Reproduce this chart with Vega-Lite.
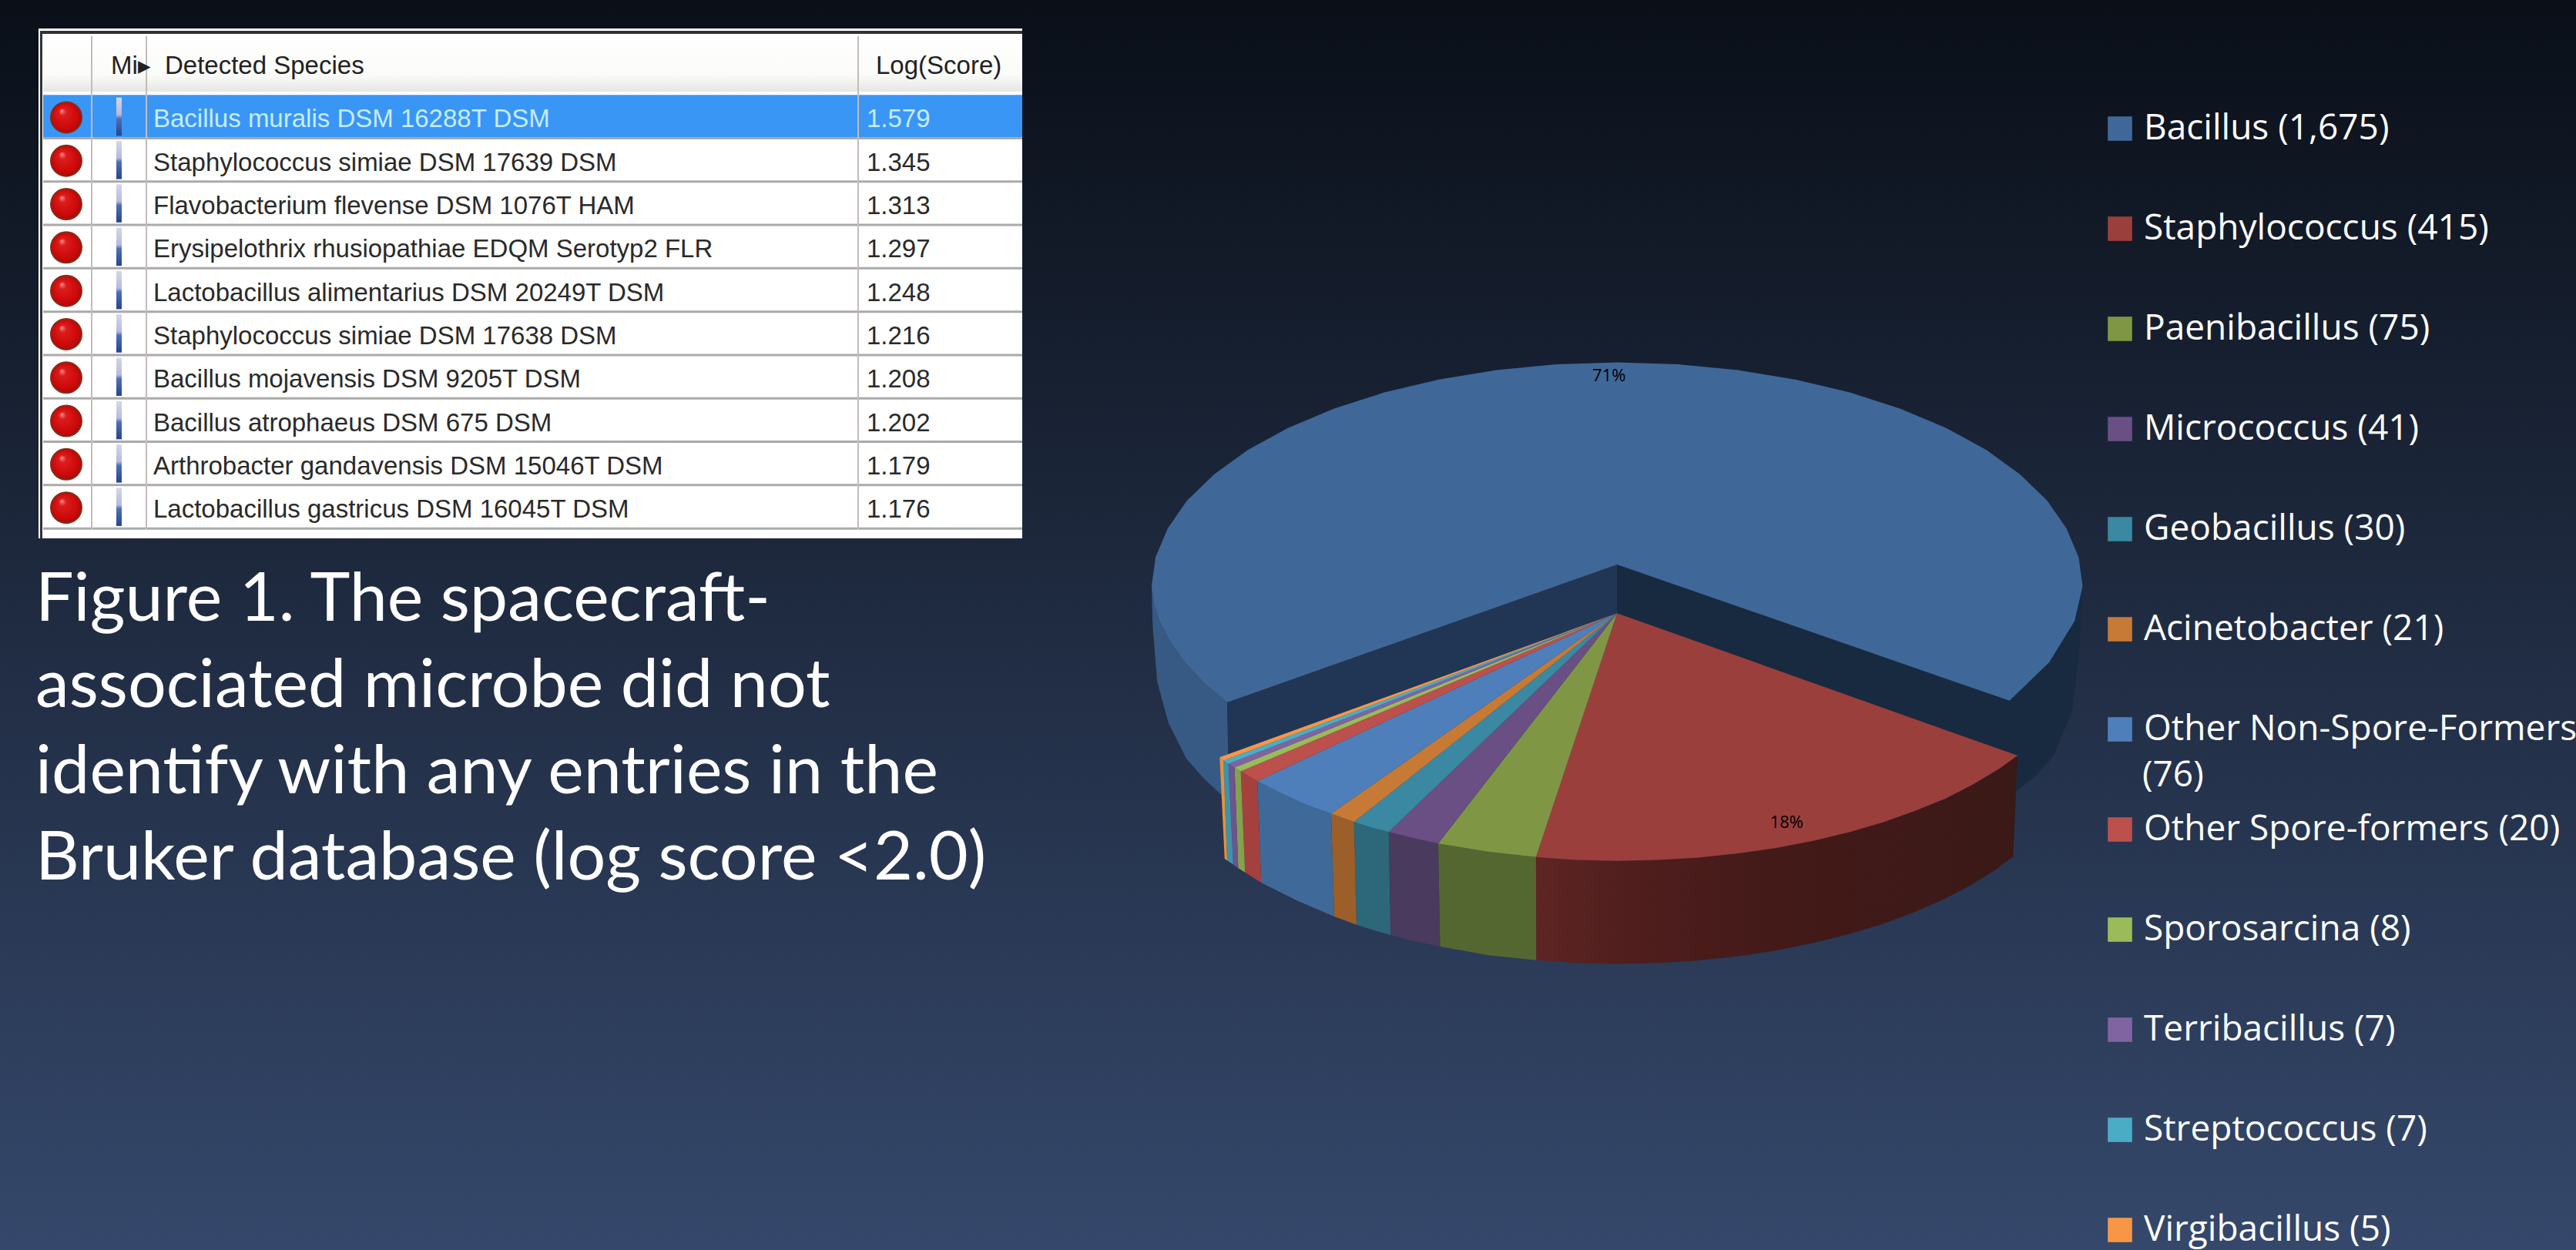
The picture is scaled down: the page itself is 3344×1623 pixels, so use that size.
{
"$schema":"https://vega.github.io/schema/vega-lite/v6.json",
"width":3344,"height":1623,"padding":0,"autosize":{"type":"none"},"background":"#0a0f18",
"config":{"view":{"stroke":null},"axis":{"disable":true}},
"datasets":{
"matches":[
{"row":0,"species":"Bacillus muralis DSM 16288T DSM","score":"1.579"},
{"row":1,"species":"Staphylococcus simiae DSM 17639 DSM","score":"1.345"},
{"row":2,"species":"Flavobacterium flevense DSM 1076T HAM","score":"1.313"},
{"row":3,"species":"Erysipelothrix rhusiopathiae EDQM Serotyp2 FLR","score":"1.297"},
{"row":4,"species":"Lactobacillus alimentarius DSM 20249T DSM","score":"1.248"},
{"row":5,"species":"Staphylococcus simiae DSM 17638 DSM","score":"1.216"},
{"row":6,"species":"Bacillus mojavensis DSM 9205T DSM","score":"1.208"},
{"row":7,"species":"Bacillus atrophaeus DSM 675 DSM","score":"1.202"},
{"row":8,"species":"Arthrobacter gandavensis DSM 15046T DSM","score":"1.179"},
{"row":9,"species":"Lactobacillus gastricus DSM 16045T DSM","score":"1.176"}],
"caption":[
{"line":1,"text":"Figure 1. The spacecraft-"},
{"line":2,"text":"associated microbe did not"},
{"line":3,"text":"identify with any entries in the"},
{"line":4,"text":"Bruker database (log score <2.0)"}],
"tops":[
{"slice":"Bacillus (1,675)","seq":0,"x":783,"y":547},{"slice":"Bacillus (1,675)","seq":1,"x":1417,"y":877},{"slice":"Bacillus (1,675)","seq":2,"x":1481,"y":784},{"slice":"Bacillus (1,675)","seq":3,"x":1522,"y":684},{"slice":"Bacillus (1,675)","seq":4,"x":1535,"y":600},{"slice":"Bacillus (1,675)","seq":5,"x":1528.6,"y":529},{"slice":"Bacillus (1,675)","seq":6,"x":1509,"y":459.5},{"slice":"Bacillus (1,675)","seq":7,"x":1477.8,"y":392.2},{"slice":"Bacillus (1,675)","seq":8,"x":1434,"y":328.5},{"slice":"Bacillus (1,675)","seq":9,"x":1379.6,"y":269.4},{"slice":"Bacillus (1,675)","seq":10,"x":1314.8,"y":216},{"slice":"Bacillus (1,675)","seq":11,"x":1240.8,"y":169.2},{"slice":"Bacillus (1,675)","seq":12,"x":1159,"y":129.8},{"slice":"Bacillus (1,675)","seq":13,"x":1070.8,"y":98.3},{"slice":"Bacillus (1,675)","seq":14,"x":977.6,"y":75.5},{"slice":"Bacillus (1,675)","seq":15,"x":881.1,"y":61.7},{"slice":"Bacillus (1,675)","seq":16,"x":783,"y":57},{"slice":"Bacillus (1,675)","seq":17,"x":684.9,"y":61.7},{"slice":"Bacillus (1,675)","seq":18,"x":588.4,"y":75.5},{"slice":"Bacillus (1,675)","seq":19,"x":495.2,"y":98.3},{"slice":"Bacillus (1,675)","seq":20,"x":407,"y":129.8},{"slice":"Bacillus (1,675)","seq":21,"x":325.2,"y":169.2},{"slice":"Bacillus (1,675)","seq":22,"x":251.2,"y":216},{"slice":"Bacillus (1,675)","seq":23,"x":186.4,"y":269.4},{"slice":"Bacillus (1,675)","seq":24,"x":132,"y":328.5},{"slice":"Bacillus (1,675)","seq":25,"x":88.2,"y":392.2},{"slice":"Bacillus (1,675)","seq":26,"x":57,"y":459.5},{"slice":"Bacillus (1,675)","seq":27,"x":37.4,"y":529},{"slice":"Bacillus (1,675)","seq":28,"x":31,"y":600},{"slice":"Bacillus (1,675)","seq":29,"x":35,"y":642},{"slice":"Bacillus (1,675)","seq":30,"x":44,"y":684},{"slice":"Bacillus (1,675)","seq":31,"x":62,"y":736},{"slice":"Bacillus (1,675)","seq":32,"x":85,"y":784},{"slice":"Bacillus (1,675)","seq":33,"x":116,"y":834},{"slice":"Bacillus (1,675)","seq":34,"x":153,"y":881},
{"slice":"Staphylococcus (415)","seq":0,"x":783,"y":665},{"slice":"Staphylococcus (415)","seq":1,"x":1430,"y":1010},{"slice":"Staphylococcus (415)","seq":2,"x":1399,"y":1043},{"slice":"Staphylococcus (415)","seq":3,"x":1359,"y":1079},{"slice":"Staphylococcus (415)","seq":4,"x":1315,"y":1113},{"slice":"Staphylococcus (415)","seq":5,"x":1266,"y":1143},{"slice":"Staphylococcus (415)","seq":6,"x":1214,"y":1171},{"slice":"Staphylococcus (415)","seq":7,"x":1159,"y":1195},{"slice":"Staphylococcus (415)","seq":8,"x":1101,"y":1216},{"slice":"Staphylococcus (415)","seq":9,"x":1040,"y":1234},{"slice":"Staphylococcus (415)","seq":10,"x":978,"y":1247},{"slice":"Staphylococcus (415)","seq":11,"x":914,"y":1257},{"slice":"Staphylococcus (415)","seq":12,"x":849,"y":1263},{"slice":"Staphylococcus (415)","seq":13,"x":783,"y":1265},{"slice":"Staphylococcus (415)","seq":14,"x":717,"y":1263},{"slice":"Staphylococcus (415)","seq":15,"x":652,"y":1256},
{"slice":"Paenibacillus (75)","seq":0,"x":783,"y":665},{"slice":"Paenibacillus (75)","seq":1,"x":652,"y":1256},{"slice":"Paenibacillus (75)","seq":2,"x":576,"y":1243},{"slice":"Paenibacillus (75)","seq":3,"x":494,"y":1223},
{"slice":"Micrococcus (41)","seq":0,"x":783,"y":665},{"slice":"Micrococcus (41)","seq":1,"x":494,"y":1223},{"slice":"Micrococcus (41)","seq":2,"x":454,"y":1210},{"slice":"Micrococcus (41)","seq":3,"x":414,"y":1195},
{"slice":"Geobacillus (30)","seq":0,"x":783,"y":665},{"slice":"Geobacillus (30)","seq":1,"x":414,"y":1195},{"slice":"Geobacillus (30)","seq":2,"x":385,"y":1184},{"slice":"Geobacillus (30)","seq":3,"x":358,"y":1171},
{"slice":"Acinetobacter (21)","seq":0,"x":783,"y":665},{"slice":"Acinetobacter (21)","seq":1,"x":358,"y":1171},{"slice":"Acinetobacter (21)","seq":2,"x":321,"y":1151},
{"slice":"Other Non-Spore-Formers (76)","seq":0,"x":783,"y":665},{"slice":"Other Non-Spore-Formers (76)","seq":1,"x":321,"y":1151},{"slice":"Other Non-Spore-Formers (76)","seq":2,"x":280,"y":1129},{"slice":"Other Non-Spore-Formers (76)","seq":3,"x":240,"y":1101},{"slice":"Other Non-Spore-Formers (76)","seq":4,"x":202,"y":1072},
{"slice":"Other Spore-formers (20)","seq":0,"x":783,"y":665},{"slice":"Other Spore-formers (20)","seq":1,"x":202,"y":1072},{"slice":"Other Spore-formers (20)","seq":2,"x":175,"y":1048},
{"slice":"Sporosarcina (8)","seq":0,"x":783,"y":665},{"slice":"Sporosarcina (8)","seq":1,"x":175,"y":1048},{"slice":"Sporosarcina (8)","seq":2,"x":165,"y":1039},
{"slice":"Terribacillus (7)","seq":0,"x":783,"y":665},{"slice":"Terribacillus (7)","seq":1,"x":165,"y":1039},{"slice":"Terribacillus (7)","seq":2,"x":155,"y":1030},
{"slice":"Streptococcus (7)","seq":0,"x":783,"y":665},{"slice":"Streptococcus (7)","seq":1,"x":155,"y":1030},{"slice":"Streptococcus (7)","seq":2,"x":147,"y":1022},
{"slice":"Virgibacillus (5)","seq":0,"x":783,"y":665},{"slice":"Virgibacillus (5)","seq":1,"x":147,"y":1022},{"slice":"Virgibacillus (5)","seq":2,"x":141,"y":1014}],
"walls":[
{"face":"Bacillus outer","seq":0,"x":31,"y":600},{"face":"Bacillus outer","seq":1,"x":35,"y":642},{"face":"Bacillus outer","seq":2,"x":44,"y":684},{"face":"Bacillus outer","seq":3,"x":62,"y":736},{"face":"Bacillus outer","seq":4,"x":85,"y":784},{"face":"Bacillus outer","seq":5,"x":116,"y":834},{"face":"Bacillus outer","seq":6,"x":153,"y":881},{"face":"Bacillus outer","seq":7,"x":156,"y":1100},{"face":"Bacillus outer","seq":8,"x":143,"y":1104},{"face":"Bacillus outer","seq":9,"x":115,"y":1065},{"face":"Bacillus outer","seq":10,"x":87,"y":1017},{"face":"Bacillus outer","seq":11,"x":58,"y":930},{"face":"Bacillus outer","seq":12,"x":40,"y":830},{"face":"Bacillus outer","seq":13,"x":33,"y":700},
{"face":"Bacillus cut left","seq":0,"x":783,"y":547},{"face":"Bacillus cut left","seq":1,"x":153,"y":881},{"face":"Bacillus cut left","seq":2,"x":156,"y":1030},{"face":"Bacillus cut left","seq":3,"x":783,"y":680},
{"face":"Bacillus cut right","seq":0,"x":783,"y":547},{"face":"Bacillus cut right","seq":1,"x":1417,"y":877},{"face":"Bacillus cut right","seq":2,"x":1481,"y":784},{"face":"Bacillus cut right","seq":3,"x":1522,"y":684},{"face":"Bacillus cut right","seq":4,"x":1535,"y":600},{"face":"Bacillus cut right","seq":5,"x":1533,"y":680},{"face":"Bacillus cut right","seq":6,"x":1529,"y":760},{"face":"Bacillus cut right","seq":7,"x":1518,"y":902},{"face":"Bacillus cut right","seq":8,"x":1489,"y":1008},{"face":"Bacillus cut right","seq":9,"x":1460,"y":1058},{"face":"Bacillus cut right","seq":10,"x":1427,"y":1098},{"face":"Bacillus cut right","seq":11,"x":1430,"y":1010},{"face":"Bacillus cut right","seq":12,"x":783,"y":665},
{"face":"Paenibacillus","seq":0,"x":652,"y":1256},{"face":"Paenibacillus","seq":1,"x":576,"y":1243},{"face":"Paenibacillus","seq":2,"x":494,"y":1223},{"face":"Paenibacillus","seq":3,"x":497,"y":1473},{"face":"Paenibacillus","seq":4,"x":575,"y":1494},{"face":"Paenibacillus","seq":5,"x":652.5,"y":1506},
{"face":"Micrococcus","seq":0,"x":494,"y":1223},{"face":"Micrococcus","seq":1,"x":454,"y":1210},{"face":"Micrococcus","seq":2,"x":414,"y":1195},{"face":"Micrococcus","seq":3,"x":417,"y":1445},{"face":"Micrococcus","seq":4,"x":456,"y":1460},{"face":"Micrococcus","seq":5,"x":497,"y":1473},
{"face":"Geobacillus","seq":0,"x":414,"y":1195},{"face":"Geobacillus","seq":1,"x":385,"y":1184},{"face":"Geobacillus","seq":2,"x":358,"y":1171},{"face":"Geobacillus","seq":3,"x":362,"y":1420},{"face":"Geobacillus","seq":4,"x":390,"y":1433},{"face":"Geobacillus","seq":5,"x":417,"y":1445},
{"face":"Acinetobacter","seq":0,"x":358,"y":1171},{"face":"Acinetobacter","seq":1,"x":321,"y":1151},{"face":"Acinetobacter","seq":2,"x":326,"y":1400},{"face":"Acinetobacter","seq":3,"x":362,"y":1420},
{"face":"Other Non-Spore-Formers","seq":0,"x":321,"y":1151},{"face":"Other Non-Spore-Formers","seq":1,"x":280,"y":1129},{"face":"Other Non-Spore-Formers","seq":2,"x":240,"y":1101},{"face":"Other Non-Spore-Formers","seq":3,"x":202,"y":1072},{"face":"Other Non-Spore-Formers","seq":4,"x":208,"y":1318},{"face":"Other Non-Spore-Formers","seq":5,"x":267,"y":1362},{"face":"Other Non-Spore-Formers","seq":6,"x":326,"y":1400},
{"face":"Other Spore-formers","seq":0,"x":202,"y":1072},{"face":"Other Spore-formers","seq":1,"x":175,"y":1048},{"face":"Other Spore-formers","seq":2,"x":182,"y":1293},{"face":"Other Spore-formers","seq":3,"x":208,"y":1318},
{"face":"Sporosarcina","seq":0,"x":175,"y":1048},{"face":"Sporosarcina","seq":1,"x":165,"y":1039},{"face":"Sporosarcina","seq":2,"x":171,"y":1283},{"face":"Sporosarcina","seq":3,"x":182,"y":1293},
{"face":"Terribacillus","seq":0,"x":165,"y":1039},{"face":"Terribacillus","seq":1,"x":155,"y":1030},{"face":"Terribacillus","seq":2,"x":163,"y":1274},{"face":"Terribacillus","seq":3,"x":171,"y":1283},
{"face":"Streptococcus","seq":0,"x":155,"y":1030},{"face":"Streptococcus","seq":1,"x":147,"y":1022},{"face":"Streptococcus","seq":2,"x":153,"y":1264},{"face":"Streptococcus","seq":3,"x":163,"y":1274},
{"face":"Virgibacillus","seq":0,"x":147,"y":1022},{"face":"Virgibacillus","seq":1,"x":141,"y":1014},{"face":"Virgibacillus","seq":2,"x":149,"y":1260},{"face":"Virgibacillus","seq":3,"x":153,"y":1264}],
"staphWall":[
{"seq":0,"x":1430,"y":1010},{"seq":1,"x":1399,"y":1043},{"seq":2,"x":1359,"y":1079},{"seq":3,"x":1315,"y":1113},{"seq":4,"x":1266,"y":1143},{"seq":5,"x":1214,"y":1171},{"seq":6,"x":1159,"y":1195},{"seq":7,"x":1101,"y":1216},{"seq":8,"x":1040,"y":1234},{"seq":9,"x":978,"y":1247},{"seq":10,"x":914,"y":1257},{"seq":11,"x":849,"y":1263},{"seq":12,"x":783,"y":1265},{"seq":13,"x":717,"y":1263},{"seq":14,"x":652,"y":1256},{"seq":15,"x":652.5,"y":1506},{"seq":16,"x":718,"y":1513},{"seq":17,"x":783,"y":1515},{"seq":18,"x":848,"y":1513},{"seq":19,"x":912,"y":1507},{"seq":20,"x":976,"y":1497},{"seq":21,"x":1038,"y":1483},{"seq":22,"x":1098,"y":1465},{"seq":23,"x":1155,"y":1444},{"seq":24,"x":1210,"y":1419},{"seq":25,"x":1262,"y":1390},{"seq":26,"x":1310,"y":1359},{"seq":27,"x":1354,"y":1325},{"seq":28,"x":1393,"y":1288},{"seq":29,"x":1423,"y":1255}]
},
"resolve":{"scale":{"x":"independent","y":"independent","color":"independent"}},
"layer":[
{"data":{"values":[{}]},
 "mark":{"type":"rect","color":{"gradient":"linear","x1":0,"y1":0,"x2":0,"y2":1,"stops":[{"offset":0,"color":"#0a0f18"},{"offset":1,"color":"#35486b"}]}},
 "encoding":{"x":{"datum":0,"type":"quantitative","scale":{"domain":[0,1],"range":[0,3344]}},"x2":{"datum":1},"y":{"datum":0,"type":"quantitative","scale":{"domain":[0,1],"range":[0,1623]}},"y2":{"datum":1}}},

{"data":{"values":[{}]},"mark":{"type":"rect","color":"#ffffff"},
 "encoding":{"x":{"datum":0,"type":"quantitative","scale":{"domain":[0,1277],"range":[50,1327]}},"x2":{"datum":1277},"y":{"datum":0,"type":"quantitative","scale":{"domain":[0,662],"range":[37,699]}},"y2":{"datum":662}}},
{"data":{"values":[{}]},
 "mark":{"type":"rect","color":{"gradient":"linear","x1":0,"y1":0,"x2":0,"y2":1,"stops":[{"offset":0,"color":"#ffffff"},{"offset":0.7,"color":"#fbfbf9"},{"offset":1,"color":"#e6e6e4"}]}},
 "encoding":{"x":{"datum":6,"type":"quantitative","scale":{"domain":[0,1277],"range":[50,1327]}},"x2":{"datum":1277},"y":{"datum":8,"type":"quantitative","scale":{"domain":[0,662],"range":[37,699]}},"y2":{"datum":82}}},
{"data":{"values":[{}]},"mark":{"type":"rect","color":"#333333"},
 "encoding":{"x":{"datum":2,"type":"quantitative","scale":{"domain":[0,1277],"range":[50,1327]}},"x2":{"datum":1277},"y":{"datum":3,"type":"quantitative","scale":{"domain":[0,662],"range":[37,699]}},"y2":{"datum":7}}},
{"data":{"values":[{}]},"mark":{"type":"rect","color":"#333333"},
 "encoding":{"x":{"datum":2,"type":"quantitative","scale":{"domain":[0,1277],"range":[50,1327]}},"x2":{"datum":5},"y":{"datum":3,"type":"quantitative","scale":{"domain":[0,662],"range":[37,699]}},"y2":{"datum":662}}},

{"data":{"name":"matches"},"transform":[{"filter":"datum.row === 0"}],"mark":{"type":"bar","color":"#3a96f5"},
 "encoding":{"x":{"datum":6,"type":"quantitative","scale":{"domain":[0,1277],"range":[50,1327]}},"x2":{"datum":1277},"y":{"field":"row","type":"ordinal","scale":{"type":"band","domain":["header",0,1,2,3,4,5,6,7,8,9],"range":[67,686.3],"paddingInner":0,"paddingOuter":0}}}},
{"data":{"name":"matches"},"mark":{"type":"rule","color":"#aaaaaa","strokeWidth":3,"yOffset":28},
 "encoding":{"x":{"datum":6,"type":"quantitative","scale":{"domain":[0,1277],"range":[50,1327]}},"x2":{"datum":1277},"y":{"field":"row","type":"ordinal","scale":{"type":"band","domain":["header",0,1,2,3,4,5,6,7,8,9],"range":[67,686.3],"paddingInner":0,"paddingOuter":0}}}},
{"data":{"values":[{"column":69},{"column":140},{"column":1064}]},"mark":{"type":"rule","color":"#c4bcbc","strokeWidth":2},
 "encoding":{"x":{"field":"column","type":"quantitative","scale":{"domain":[0,1277],"range":[50,1327]}},"y":{"datum":10,"type":"quantitative","scale":{"domain":[0,662],"range":[37,699]}},"y2":{"datum":650}}},
{"data":{"name":"matches"},"mark":{"type":"bar","color":{"gradient":"linear","x1":0,"y1":0,"x2":0,"y2":1,"stops":[{"offset":0,"color":"#d5d8e8"},{"offset":0.45,"color":"#b4bada"},{"offset":0.55,"color":"#4f70b8"},{"offset":1,"color":"#24448f"}]},"height":{"band":0.88}},
 "encoding":{"x":{"datum":101,"type":"quantitative","scale":{"domain":[0,1277],"range":[50,1327]}},"x2":{"datum":108},"y":{"field":"row","type":"ordinal","scale":{"type":"band","domain":["header",0,1,2,3,4,5,6,7,8,9],"range":[67,686.3],"paddingInner":0,"paddingOuter":0}}}},
{"data":{"name":"matches"},"mark":{"type":"point","filled":true,"size":1600,"opacity":1,"yOffset":1,"stroke":"#80301c","strokeWidth":2,"fill":{"gradient":"radial","x1":0.35,"y1":0.28,"r1":0,"x2":0.5,"y2":0.5,"r2":0.55,"stops":[{"offset":0,"color":"#f09090"},{"offset":0.22,"color":"#dc1c1c"},{"offset":0.75,"color":"#cc0808"},{"offset":1,"color":"#a00a0a"}]}},
 "encoding":{"x":{"datum":36,"type":"quantitative","scale":{"domain":[0,1277],"range":[50,1327]}},"y":{"field":"row","type":"ordinal","scale":{"type":"band","domain":["header",0,1,2,3,4,5,6,7,8,9],"range":[67,686.3],"paddingInner":0,"paddingOuter":0}}}},
{"data":{"name":"matches"},"mark":{"type":"text","align":"left","baseline":"middle","font":"Liberation Sans","fontSize":33,"yOffset":4},
 "encoding":{"x":{"datum":149,"type":"quantitative","scale":{"domain":[0,1277],"range":[50,1327]}},"y":{"field":"row","type":"ordinal","scale":{"type":"band","domain":["header",0,1,2,3,4,5,6,7,8,9],"range":[67,686.3],"paddingInner":0,"paddingOuter":0}},"text":{"field":"species"},"color":{"condition":{"test":"datum.row === 0","value":"#c6ecff"},"value":"#2a2a2a"}}},
{"data":{"name":"matches"},"mark":{"type":"text","align":"left","baseline":"middle","font":"Liberation Sans","fontSize":33,"yOffset":4},
 "encoding":{"x":{"datum":1075,"type":"quantitative","scale":{"domain":[0,1277],"range":[50,1327]}},"y":{"field":"row","type":"ordinal","scale":{"type":"band","domain":["header",0,1,2,3,4,5,6,7,8,9],"range":[67,686.3],"paddingInner":0,"paddingOuter":0}},"text":{"field":"score"},"color":{"condition":{"test":"datum.row === 0","value":"#c6ecff"},"value":"#2a2a2a"}}},
{"data":{"values":[{"row":"header","heading":"Mi\u25b8","at":94},{"row":"header","heading":"Detected Species","at":164},{"row":"header","heading":"Log(Score)","at":1087}]},
 "mark":{"type":"text","align":"left","baseline":"middle","font":"Liberation Sans","fontSize":33,"color":"#222222","yOffset":-9},
 "encoding":{"x":{"field":"at","type":"quantitative","scale":{"domain":[0,1277],"range":[50,1327]}},"y":{"field":"row","type":"ordinal","scale":{"type":"band","domain":["header",0,1,2,3,4,5,6,7,8,9],"range":[67,686.3],"paddingInner":0,"paddingOuter":0}},"text":{"field":"heading"}}},

{"data":{"name":"caption"},"mark":{"type":"text","align":"left","baseline":"alphabetic","font":"Lato","fontSize":88,"color":"#ffffff"},
 "encoding":{"x":{"datum":0,"type":"quantitative","scale":{"domain":[0,1],"range":[46,1000]}},"y":{"field":"line","type":"ordinal","scale":{"type":"band","domain":[1,2,3,4],"range":[750,1198],"paddingInner":0,"paddingOuter":0}},"text":{"field":"text"}}},

{"data":{"name":"walls"},"mark":{"type":"line","filled":true,"interpolate":"linear-closed"},
 "encoding":{"x":{"field":"x","type":"quantitative","scale":{"domain":[0,1568],"range":[1470,2730],"zero":false,"nice":false}},"y":{"field":"y","type":"quantitative","scale":{"domain":[0,1568],"range":[440,1280],"zero":false,"nice":false}},"order":{"field":"seq"},
 "color":{"field":"face","type":"nominal","legend":null,"scale":{"domain":["Bacillus outer","Bacillus cut left","Bacillus cut right","Paenibacillus","Micrococcus","Geobacillus","Acinetobacter","Other Non-Spore-Formers","Other Spore-formers","Sporosarcina","Terribacillus","Streptococcus","Virgibacillus"],"range":["#375a84","#213654","#172a40","#546730","#4a3a5e","#2c6879","#9c5f29","#3f6998","#a4413f","#85a24a","#6c5490","#3f93a9","#e5913f"]}}}},
{"data":{"name":"staphWall"},"mark":{"type":"line","filled":true,"interpolate":"linear-closed","color":{"gradient":"linear","x1":0,"y1":0,"x2":1,"y2":0,"stops":[{"offset":0,"color":"#5e2523"},{"offset":0.2,"color":"#4f1e1d"},{"offset":0.5,"color":"#431a18"},{"offset":1,"color":"#3a1917"}]}},
 "encoding":{"x":{"field":"x","type":"quantitative","scale":{"domain":[0,1568],"range":[1470,2730],"zero":false,"nice":false}},"y":{"field":"y","type":"quantitative","scale":{"domain":[0,1568],"range":[440,1280],"zero":false,"nice":false}},"order":{"field":"seq"}}},
{"data":{"name":"tops"},"mark":{"type":"line","filled":true,"interpolate":"linear-closed"},
 "encoding":{"x":{"field":"x","type":"quantitative","scale":{"domain":[0,1568],"range":[1470,2730],"zero":false,"nice":false}},"y":{"field":"y","type":"quantitative","scale":{"domain":[0,1568],"range":[440,1280],"zero":false,"nice":false}},"order":{"field":"seq"},
 "color":{"field":"slice","type":"nominal","scale":{"domain":["Bacillus (1,675)","Staphylococcus (415)","Paenibacillus (75)","Micrococcus (41)","Geobacillus (30)","Acinetobacter (21)","Other Non-Spore-Formers (76)","Other Spore-formers (20)","Sporosarcina (8)","Terribacillus (7)","Streptococcus (7)","Virgibacillus (5)"],"range":["#3f6899","#9b3f3c","#7f9745","#694f83","#3a88a2","#c67a36","#4e7fba","#bb504d","#9bbb59","#8064a2","#4bacc6","#f79646"]},
 "legend":{"orient":"none","legendX":2729,"legendY":144,"title":null,"padding":0,"symbolType":"square","symbolSize":1000,"symbolStrokeWidth":0,"labelFont":"Open Sans","labelFontSize":46,"labelColor":"#ffffff","labelOffset":8,"labelLimit":0,"rowPadding":84,"labelExpr":"replace(datum.label, ' (76)', '')"}}}},
{"data":{"values":[{"row":7,"wrapped":"(76)"}]},"mark":{"type":"text","align":"left","baseline":"middle","font":"Open Sans","fontSize":46,"color":"#ffffff","yOffset":62},
 "encoding":{"x":{"datum":0,"type":"quantitative","scale":{"domain":[0,1],"range":[2781,3344]}},"y":{"field":"row","type":"ordinal","scale":{"type":"band","domain":[1,2,3,4,5,6,7,8,9,10,11,12],"range":[100,1660],"paddingInner":0,"paddingOuter":0}},"text":{"field":"wrapped"}}},
{"data":{"values":[{"slice":"Bacillus","share":"71%"}]},"mark":{"type":"text","font":"Open Sans","fontSize":22,"color":"#000000"},
 "encoding":{"x":{"datum":770,"type":"quantitative","scale":{"domain":[0,1568],"range":[1470,2730],"zero":false,"nice":false}},"y":{"datum":90,"type":"quantitative","scale":{"domain":[0,1568],"range":[440,1280],"zero":false,"nice":false}},"text":{"field":"share"}}},
{"data":{"values":[{"slice":"Staphylococcus","share":"18%"}]},"mark":{"type":"text","font":"Open Sans","fontSize":22,"color":"#000000"},
 "encoding":{"x":{"datum":1057,"type":"quantitative","scale":{"domain":[0,1568],"range":[1470,2730],"zero":false,"nice":false}},"y":{"datum":1172,"type":"quantitative","scale":{"domain":[0,1568],"range":[440,1280],"zero":false,"nice":false}},"text":{"field":"share"}}}
]
}
